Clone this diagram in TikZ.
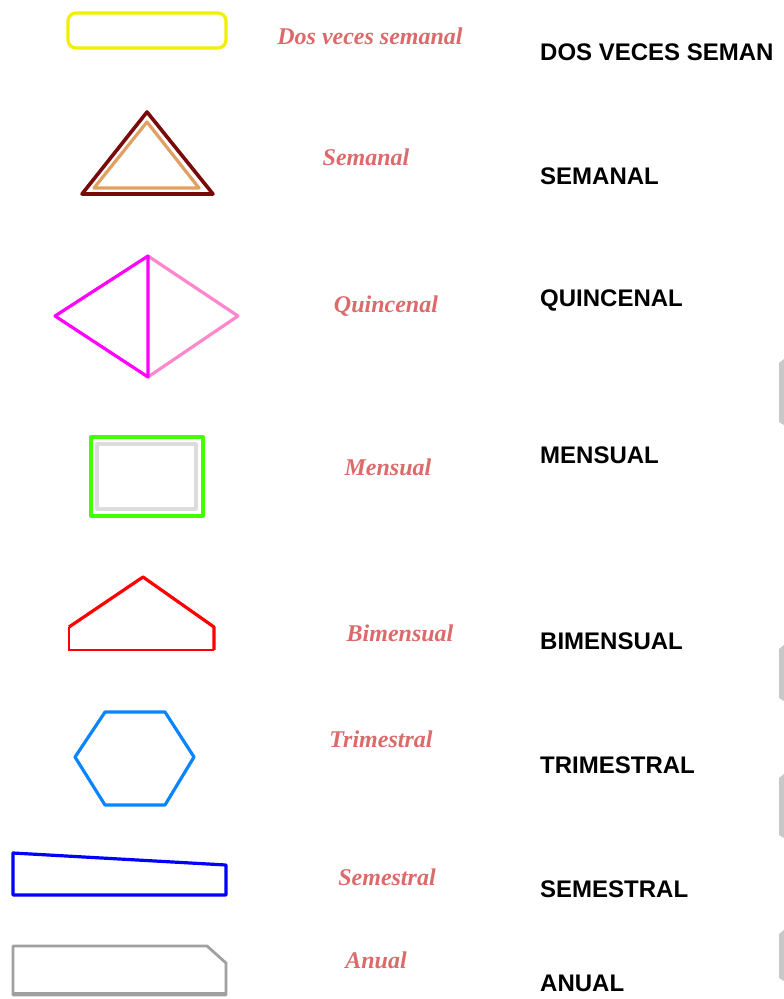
\documentclass[tikz,border=0pt]{standalone}
\usepackage{fontspec}
\setmainfont{Liberation Serif}
\setsansfont{Liberation Sans}
\usetikzlibrary{positioning}
\definecolor{fYellow}{HTML}{F0F000}
\definecolor{fMaroon}{HTML}{780A0A}
\definecolor{fTan}{HTML}{E0A064}
\definecolor{fMagenta}{HTML}{FF00FF}
\definecolor{fPink}{HTML}{FF88CC}
\definecolor{fGreen}{HTML}{44FF00}
\definecolor{fLight}{HTML}{DCDCDC}
\definecolor{fRed}{HTML}{FF0000}
\definecolor{fSky}{HTML}{0A84FF}
\definecolor{fBlue}{HTML}{0000FF}
\definecolor{fGray}{HTML}{A0A0A0}
\definecolor{fEdge}{HTML}{C8C8C8}
\definecolor{fSalmon}{HTML}{DC6A6A}

\begin{document}
\begin{tikzpicture}[x=1pt, y=-1pt,
    freq/.style={font=\fontsize{24}{24}\selectfont\bfseries\itshape, text=fSalmon, inner sep=0pt},
    cat/.style={font=\fontsize{24}{24}\selectfont\sffamily\bfseries, anchor=west, inner sep=0pt},
    outline/.style={line width=3.2pt, line join=round}]
    \useasboundingbox (0,0) rectangle (784,999);
    % symbols, one per frequency
    \draw[outline, fYellow, rounded corners=8] (68,13) rectangle (226,48);
    \draw[outline, fMaroon, line width=3.6pt] (147,112) -- (82,194) -- (213,194) -- cycle;
    \draw[outline, fTan] (147,122) -- (94,188) -- (199,188) -- cycle;
    \draw[outline, fPink] (148,256) -- (238,316) -- (148,377);
    \draw[outline, fMagenta] (148,256) -- (55,316) -- (148,377) -- cycle;
    \draw[outline, fGreen] (91,437) rectangle (203,516);
    \draw[outline, fLight] (97,444) rectangle (196,509);
    \draw[outline, fRed] (69,627) -- (143,577) -- (214,627) -- (214,650);
    \draw[fRed, line width=2pt] (214,650) -- (69,650) -- (69,627);
    \draw[outline, fSky] (105,712) -- (165,712) -- (194,757) -- (165,805)
      -- (105,805) -- (75,757) -- cycle;
    \draw[outline, fBlue] (13,853) -- (226,865) -- (226,895) -- (13,895) -- cycle;
    \draw[outline, fGray, line width=2.8pt] (13,946) -- (207,946) -- (226,963)
      -- (226,995) -- (13,995) -- cycle;
    \draw[fGray, line width=2.4pt] (14,993) -- (225,993);
    % cut-off pieces at the right border
    \foreach \ya/\yb in {359/425, 645/701, 774/838, 930/981}
      \fill[fEdge] (779,\ya+4) -- (784,\ya) -- (784,\yb) -- (779,\yb-3) -- cycle;
    % italic names
    \node[freq] (f-dos) at (370,36) {Dos veces semanal};
    \node[freq] (f-sem) at (366,157) {Semanal};
    \node[freq] (f-qui) at (386,306) {Quincenal};
    \node[freq] (f-men) at (388,467) {Mensual};
    \node[freq] (f-bim) at (400,633) {Bimensual};
    \node[freq] (f-tri) at (381,739) {Trimestral};
    \node[freq] (f-sms) at (387,877) {Semestral};
    \node[freq] (f-anu) at (376,960) {Anual};
    % capital names
    \foreach \key/\y/\txt in {dos/52/DOS VECES SEMAN, sem/176/SEMANAL, qui/300/QUINCENAL,
        men/455/MENSUAL, bim/641/BIMENSUAL, tri/765/TRIMESTRAL, sms/889/SEMESTRAL, anu/983/ANUAL}
      \node[cat] (c-\key) at (540,\y) {\txt};
\end{tikzpicture}
\end{document}
